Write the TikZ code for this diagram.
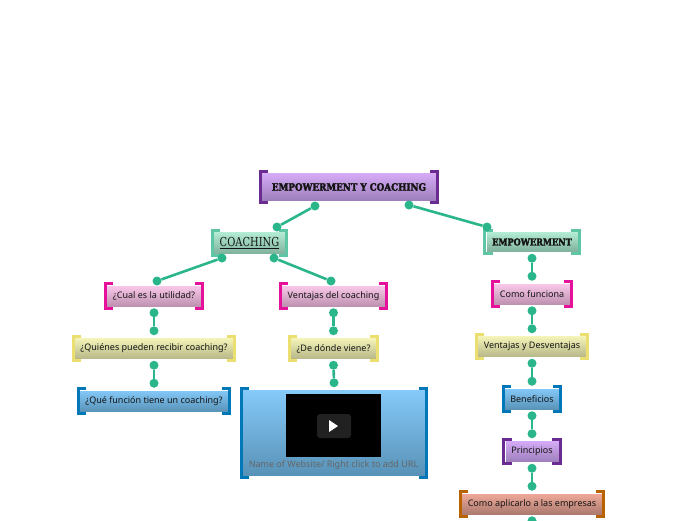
\documentclass[tikz,border=0pt]{standalone}
\usepackage{fontspec}
\setmainfont{Noto Sans}
\newfontfamily\heavyfont[BoldFeatures={FakeBold=2.5,FakeStretch=0.86}]{DejaVu Serif}
\newfontfamily\slabfont[FakeStretch=0.8]{DejaVu Serif}
\usetikzlibrary{positioning}
\definecolor{linkgreen}{RGB}{43,181,139}
\definecolor{purpleedge}{RGB}{106,44,145}
\definecolor{mintedge}{RGB}{95,198,165}
\definecolor{pinkedge}{RGB}{229,17,154}
\definecolor{yellowedge}{RGB}{235,223,114}
\definecolor{blueedge}{RGB}{0,120,184}
\definecolor{orangeedge}{RGB}{184,98,0}
\definecolor{purpletop}{RGB}{215,172,248}
\definecolor{purplebot}{RGB}{155,125,185}
\definecolor{minttop}{RGB}{181,237,214}
\definecolor{mintbot}{RGB}{125,175,155}
\definecolor{pinktop}{RGB}{252,202,236}
\definecolor{pinkbot}{RGB}{188,143,174}
\definecolor{yellowtop}{RGB}{246,246,186}
\definecolor{yellowbot}{RGB}{180,180,135}
\definecolor{bluetop}{RGB}{133,202,250}
\definecolor{bluebot}{RGB}{88,145,182}
\definecolor{orangetop}{RGB}{242,170,154}
\definecolor{orangebot}{RGB}{168,120,110}

\begin{document}
\begin{tikzpicture}[x=1pt,y=-1pt,node distance=30pt,
            topic/.style={draw=white,line width=.5pt,inner sep=0pt,minimum height=22pt,
                        font=\fontsize{9}{10}\selectfont,text=black!92},
            purplebox/.style={topic,top color=purpletop,bottom color=purplebot},
            mintbox/.style={topic,top color=minttop,bottom color=mintbot},
            pinkbox/.style={topic,top color=pinktop,bottom color=pinkbot},
            yellowbox/.style={topic,top color=yellowtop,bottom color=yellowbot},
            bluebox/.style={topic,top color=bluetop,bottom color=bluebot},
            orangebox/.style={topic,top color=orangetop,bottom color=orangebot},
            bracket/.style={line width=3.2pt,line cap=butt,line join=miter},
            dot/.style={circle,fill=linkgreen,inner sep=0pt,minimum size=9pt},
            link/.style={draw=linkgreen,line width=2.6pt}]
        \useasboundingbox (0,0) rectangle (696,520);
        % main topics
        \node[purplebox,minimum width=175pt,minimum height=29pt] (root) at (349,187)
            {\heavyfont\bfseries\fontsize{10.2}{11}\selectfont EMPOWERMENT Y COACHING};
        \node[mintbox,minimum width=72pt,minimum height=23pt] (coaching) at (249.5,243)
            {\slabfont\fontsize{12.4}{13}\selectfont\underline{COACHING}};
        \node[mintbox,minimum width=92pt,minimum height=21pt] (empower) at (532,242)
            {\heavyfont\bfseries\fontsize{9.5}{10}\selectfont EMPOWERMENT};
        % left column
        \node[pinkbox,minimum width=95pt] (utilidad) at (154,296) {¿Cual es la utilidad?};
        \node[yellowbox,minimum width=159pt,below=of utilidad] (quienes) {¿Quiénes pueden recibir coaching?};
        \node[bluebox,minimum width=149pt,below=of quienes] (funcion) {¿Qué función tiene un coaching?};
        % middle column
        \node[pinkbox,minimum width=104pt] (ventajas) at (333.5,296) {Ventajas del coaching};
        \node[yellowbox,minimum width=86pt,below=of ventajas] (viene) {¿De dónde viene?};
        \node[bluebox,minimum width=183pt,minimum height=87pt] (video) at (334,433) {};
        \node[fill=black,minimum width=95pt,minimum height=63pt,inner sep=0pt] (screen) at (333.5,425.5) {};
        \node[fill=black!87,rounded corners=3pt,minimum width=34pt,minimum height=24pt,inner sep=0pt] (play) at (334,426) {};
        \fill[white] (329,420) -- (338,426) -- (329,432) -- cycle;
        \node[font=\fontsize{9}{10}\selectfont,text=black!60] (urltext) at (333.5,465.5) {Name of Website/ Right click to add URL};
        % right column
        \node[pinkbox,minimum width=77pt] (funciona) at (532,294) {Como funciona};
        \node[yellowbox,minimum width=109pt,below=of funciona] (desventajas) {Ventajas y Desventajas};
        \node[bluebox,minimum width=55pt,below=of desventajas] (beneficios) {Beneficios};
        \node[purplebox,minimum width=54pt,below=of beneficios] (principios) {Principios};
        \node[orangebox,minimum width=141pt,below=of principios] (aplicar) {Como aplicarlo a las empresas};
        % corner brackets
        \foreach \name/\col in {root/purpleedge,coaching/mintedge,empower/mintedge,
                utilidad/pinkedge,quienes/yellowedge,funcion/blueedge,
                ventajas/pinkedge,viene/yellowedge,video/blueedge,
                funciona/pinkedge,desventajas/yellowedge,beneficios/blueedge,
                principios/purpleedge,aplicar/orangeedge}{
            \draw[bracket,\col] ([shift={(7,-1)}]\name.north west) -| ([shift={(-1,1)}]\name.south west) -- ++(8,0);
            \draw[bracket,\col] ([shift={(-7,-1)}]\name.north east) -| ([shift={(1,1)}]\name.south east) -- ++(-8,0);
        }
        % straight links down the columns
        \foreach \from/\to in {utilidad/quienes,quienes/funcion,ventajas/viene,viene/video,
                empower/funciona,funciona/desventajas,desventajas/beneficios,
                beneficios/principios,principios/aplicar}{
            \node[dot,below=5.5pt of \from.south,anchor=center] (\from-out) {};
            \node[dot,above=6.5pt of \to.north,anchor=center] (\to-in) {};
            \draw[link] (\from-out) -- (\to-in);
        }
        \node[dot,below=5.5pt of aplicar.south,anchor=center] (aplicar-out) {};
        % slanted links
        \node[dot] (rootleft) at (315,206) {};
        \node[dot] (rootright) at (409,205) {};
        \node[dot] (coachingin) at (277,227) {};
        \node[dot] (empowerin) at (487,227) {};
        \node[dot] (coachingleft) at (222,258) {};
        \node[dot] (coachingright) at (274,258) {};
        \node[dot] (utilidadin) at (157,281) {};
        \node[dot] (ventajasin) at (331,281) {};
        \draw[link] (rootleft) -- (coachingin);
        \draw[link] (rootright) -- (empowerin);
        \draw[link] (coachingleft) -- (utilidadin);
        \draw[link] (coachingright) -- (ventajasin);
\end{tikzpicture}
\end{document}
